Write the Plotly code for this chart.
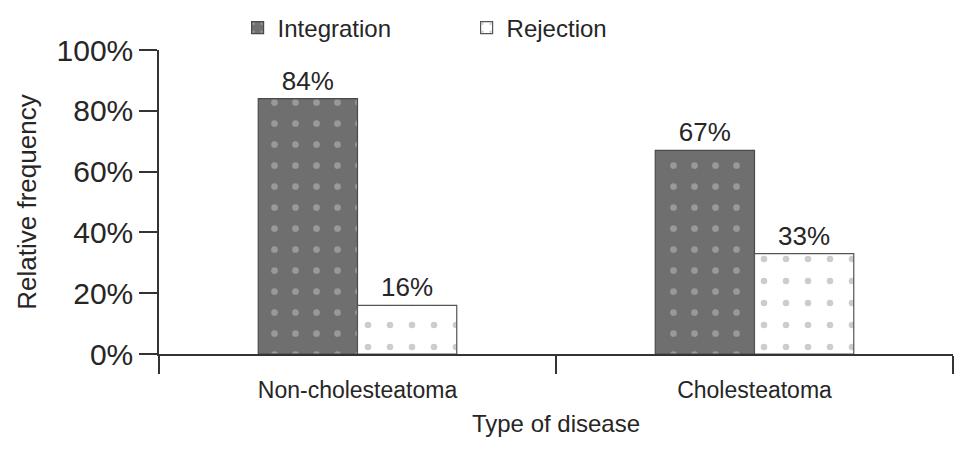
import plotly.graph_objects as go

categories = ["Non-cholesteatoma", "Cholesteatoma"]
integration = [84, 67]
rejection = [16, 33]
series_names = ["Integration", "Rejection"]
y_ticks = [0, 20, 40, 60, 80, 100]
y_tick_labels = [f"{v}%" for v in y_ticks]

FONT = "Liberation Sans, Arial, sans-serif"
TXT = "#262626"

fig = go.Figure()
fig.add_trace(go.Bar(
    name=series_names[0], x=categories, y=integration,
    text=[f"{v}%" for v in integration], textposition="outside",
    textfont=dict(size=26, color=TXT, family=FONT),
    marker=dict(color="#6f6f6f", line=dict(color="#4a4a4a", width=1.2),
                pattern=dict(shape=".", fgcolor="#c4c4c4", bgcolor="#6f6f6f",
                             size=21, solidity=0.08, fillmode="overlay")),
    cliponaxis=False,
))
fig.add_trace(go.Bar(
    name=series_names[1], x=categories, y=rejection,
    text=[f"{v}%" for v in rejection], textposition="outside",
    textfont=dict(size=26, color=TXT, family=FONT),
    marker=dict(color="#ffffff", line=dict(color="#555555", width=1.2),
                pattern=dict(shape=".", fgcolor="#999999", bgcolor="#ffffff",
                             size=22, solidity=0.07, fillmode="overlay")),
    cliponaxis=False,
))

fig.update_layout(
    width=969, height=450,
    margin=dict(l=151, r=24, t=42, b=104, autoexpand=False),
    paper_bgcolor="white", plot_bgcolor="white",
    barmode="group", bargap=0.5, bargroupgap=0,
    font=dict(family=FONT, color=TXT),
    showlegend=True,
    legend=dict(orientation="h", x=0.099, y=1.072, xanchor="left", yanchor="middle",
                font=dict(size=24, color=TXT, family=FONT),
                entrywidth=184, entrywidthmode="pixels",
                bgcolor="rgba(0,0,0,0)"),
    xaxis=dict(
        type="category", showline=True, linecolor="#333333", linewidth=1.5,
        ticks="outside", tickson="boundaries", ticklen=18, tickcolor="#333333",
        tickwidth=1.5, showgrid=False, automargin=False, ticklabelstandoff=15,
        tickfont=dict(size=23, color=TXT, family=FONT),
        title=dict(text="Type of disease", font=dict(size=24, color=TXT, family=FONT),
                   standoff=13),
    ),
    yaxis=dict(
        range=[0, 100], tickvals=y_ticks, ticktext=y_tick_labels,
        showline=True, linecolor="#333333", linewidth=1.5,
        ticks="outside", ticklen=18, tickcolor="#333333", tickwidth=1.5,
        showgrid=False, zeroline=False, automargin=False,
        tickfont=dict(size=30, color=TXT, family=FONT),
        title=dict(text="Relative frequency", font=dict(size=26, color=TXT, family=FONT),
                   standoff=12),
    ),
)

fig.write_html("out.html")
